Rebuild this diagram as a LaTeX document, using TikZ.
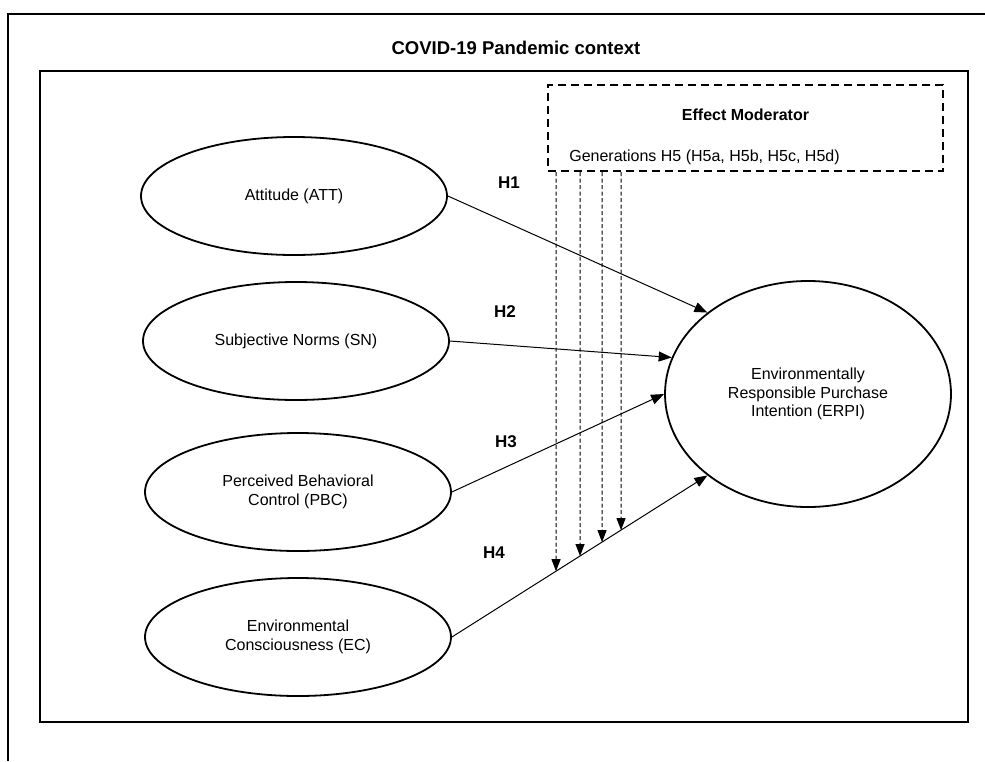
\documentclass[tikz,border=0pt]{standalone}
\usepackage{fontspec}
\setmainfont{Liberation Sans}
\usetikzlibrary{shapes.geometric,arrows.meta,calc}
\begin{document}
\begin{tikzpicture}[x=1pt,y=-1pt,
  lat/.style={draw,line width=1.8pt,ellipse,minimum width=306pt,minimum height=118pt,
    align=center,inner sep=0pt,font=\fontsize{16}{19}\selectfont},
  conn/.style={line width=1pt,-{Triangle[length=13pt,width=10pt]}},
  modarrow/.style={line width=1pt,dash pattern=on 4pt off 2.5pt,-{Triangle[length=12pt,width=9pt]}},
  hlab/.style={font=\fontsize{17}{20}\selectfont\bfseries},
  txt/.style={font=\fontsize{16}{19}\selectfont,inner sep=0pt}
]
\useasboundingbox (0,0) rectangle (985,761);
% outer frame (clipped by the page)
\coordinate (o1) at (8,761);
\coordinate (o2) at (8,14);
\coordinate (o3) at (985,14);
\draw[line width=1.5pt] (o1) -- (o2) -- (o3);
\node[font=\fontsize{18.5}{22}\selectfont\bfseries,inner sep=0pt] (title) at (516,48) {COVID-19 Pandemic context};
% inner frame
\node[draw,line width=2.2pt,inner sep=0pt,minimum width=928pt,minimum height=651pt] (frame) at (504,396.5) {};
% moderator box
\node[draw,line width=2pt,dash pattern=on 8pt off 5pt,inner sep=0pt,minimum width=395pt,minimum height=86pt] (mod) at (745.5,128) {};
\node[txt,font=\fontsize{16}{19}\selectfont\bfseries] (modtitle) at (745.5,115) {Effect Moderator};
\node[txt] (gen) at (704.5,157) {Generations H5 (H5a, H5b, H5c, H5d)};
% constructs
\node[lat] (att) at (294,196) {Attitude (ATT)};
\node[lat] (sn) at (296,341) {Subjective Norms (SN)};
\node[lat] (pbc) at (298,492) {Perceived Behavioral\\Control (PBC)};
\node[lat] (ec) at (298,637) {Environmental\\Consciousness (EC)};
\node[lat,minimum width=286pt,minimum height=226pt,font=\fontsize{16}{18.5}\selectfont] (erpi) at (808,394) {Environmentally\\Responsible Purchase\\Intention (ERPI)};
% paths
\draw[conn] (att.east) -- (erpi.141.5);
\draw[conn] (sn.east) -- (erpi.165.5);
\draw[conn] (pbc.east) -- (erpi.180);
\draw[conn] (ec.east) -- (erpi.219);
\node[hlab] (h1) at (509,183) {H1};
\node[hlab] (h2) at (505,312) {H2};
\node[hlab] (h3) at (506,442) {H3};
\node[hlab] (h4) at (494,553) {H4};
% moderating arrows
\coordinate (h4a) at (ec.east);
\coordinate (h4b) at (erpi.219);
\foreach \i/\x in {1/556,2/580,3/602,4/621}{
  \coordinate (m\i) at (\x,172);
  \coordinate (mb\i) at (\x,800);
  \draw[modarrow] (m\i) -- (intersection of h4a--h4b and m\i--mb\i);
}
\end{tikzpicture}
\end{document}
